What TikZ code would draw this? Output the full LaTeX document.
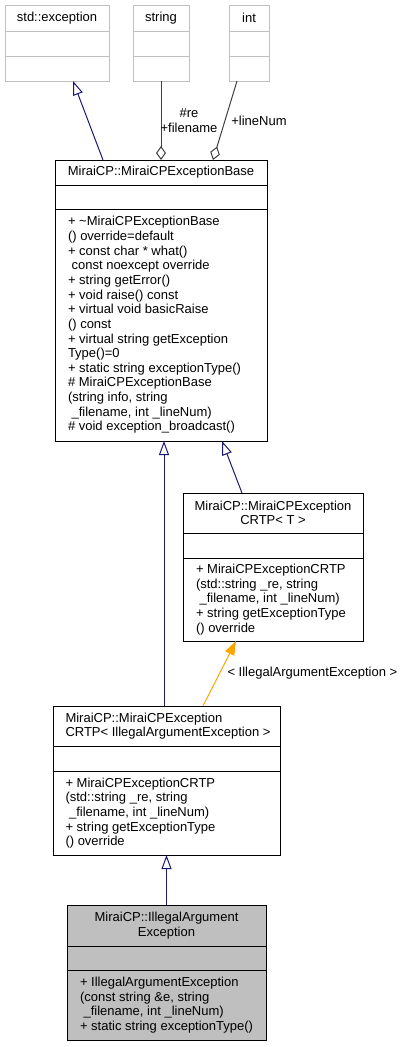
\documentclass[tikz,border=0pt]{standalone}
\usepackage{fontspec}
\setmainfont{Liberation Sans}
\usetikzlibrary{calc,arrows.meta}

\definecolor{edgeblue}{HTML}{191970}
\definecolor{tmplorange}{HTML}{FFA500}
\definecolor{memgray}{HTML}{404040}
\definecolor{extgray}{HTML}{BFBFBF}
\newcommand{\umlfont}{\fontsize{13}{14.64}\selectfont}

\begin{document}
\begin{tikzpicture}[x=1pt,y=-1pt,line width=1pt,
  cls/.style={draw=black,anchor=north west,inner sep=0pt,outer sep=0pt},
  extcls/.style={cls,draw=extgray},
  txt/.style={font=\umlfont,inner sep=0pt},
  ops/.style={txt,align=left,anchor=west},
  inh/.style={draw=edgeblue,-{Triangle[open,length=14pt,width=10pt]}},
  tmpl/.style={draw=tmplorange,-{Triangle[length=14pt,width=10pt,fill=tmplorange]}},
  usage/.style={draw=memgray,-{Diamond[open,length=14pt,width=10pt]}}]
\useasboundingbox (0,0) rectangle (404,1047);

% external classes
\node[extcls,minimum width=104,minimum height=76] (exc) at (5,5) {};
\node[extcls,minimum width=56,minimum height=76] (str) at (133,5) {};
\node[extcls,minimum width=40,minimum height=76] (int) at (229,5) {};
\foreach \n in {exc,str,int}{
  \draw[extgray] ($(\n.north west)+(0,26)$) -- ($(\n.north east)+(0,26)$);
  \draw[extgray] ($(\n.north west)+(0,51)$) -- ($(\n.north east)+(0,51)$);
}
\node[txt] (excT) at ($(exc.north)+(0,13)$) {std::exception};
\node[txt] (strT) at ($(str.north)+(0,13)$) {string};
\node[txt] (intT) at ($(int.north)+(0,13)$) {int};

% class boxes
\node[cls,minimum width=212,minimum height=281] (base) at (55,160) {};
\node[cls,minimum width=180,minimum height=148] (crtpT) at (183,493) {};
\node[cls,minimum width=227,minimum height=149] (crtpI) at (53,706) {};
\node[cls,fill=extgray,minimum width=199,minimum height=135] (illegal) at (67,905) {};
\foreach \n/\a/\b in {base/25/49,crtpT/40/65,crtpI/40/65,illegal/41/65}{
  \draw ($(\n.north west)+(0,\a)$) -- ($(\n.north east)+(0,\a)$);
  \draw ($(\n.north west)+(0,\b)$) -- ($(\n.north east)+(0,\b)$);
}

\node[txt] (baseT) at ($(base.north)+(0,12.5)$) {MiraiCP::MiraiCPExceptionBase};
\node[ops] (baseOps) at ($(base.north west)+(12.5,165)$) {+ \textasciitilde MiraiCPExceptionBase\\() override=default\\+ const char * what()\\\ const noexcept override\\+ string getError()\\+ void raise() const\\+ virtual void basicRaise\\() const\\+ virtual string getException\\Type()=0\\+ static string exceptionType()\\\# MiraiCPExceptionBase\\(string info, string\\\ \_filename, int \_lineNum)\\\# void exception\_broadcast()};

\node[txt,align=center] (crtpTT) at ($(crtpT.north)+(0,20)$) {MiraiCP::MiraiCPException\\CRTP< T >};
\node[ops] (crtpTOps) at ($(crtpT.north west)+(12.5,106.5)$) {+ MiraiCPExceptionCRTP\\(std::string \_re, string\\\ \_filename, int \_lineNum)\\+ string getExceptionType\\() override};

\node[txt,align=left,anchor=west] (crtpIT) at ($(crtpI.north west)+(12,20)$) {MiraiCP::MiraiCPException\\CRTP< IllegalArgumentException >};
\node[ops] (crtpIOps) at ($(crtpI.north west)+(12,107)$) {+ MiraiCPExceptionCRTP\\(std::string \_re, string\\\ \_filename, int \_lineNum)\\+ string getExceptionType\\() override};

\node[txt,align=center] (illegalT) at ($(illegal.north)+(0,20.5)$) {MiraiCP::IllegalArgument\\Exception};
\node[ops] (illegalOps) at ($(illegal.north west)+(12.5,100)$) {+ IllegalArgumentException\\(const string \&e, string\\\ \_filename, int \_lineNum)\\+ static string exceptionType()};

% relations
\draw[inh] ($(base.north west)+(48,0)$) -- ($(exc.south west)+(68,0)$);
\draw[usage] (str.south) -- node[txt,align=center,xshift=28] (reLbl) {\#re\\+filename} (base.north);
\draw[usage] ($(int.south west)+(8,0)$) -- node[txt,xshift=34] (lineLbl) {+lineNum} ($(base.north west)+(158,0)$);
\draw[inh] ($(crtpT.north west)+(59,0)$) -- ($(base.south west)+(167,0)$);
\draw[inh] ($(crtpI.north west)+(111,0)$) -- ($(base.south west)+(109,0)$);
\draw[tmpl] ($(crtpI.north west)+(150,0)$) -- node[txt,anchor=west,xshift=7.5] (argLbl) {< IllegalArgumentException >} ($(crtpT.south west)+(53,0)$);
\draw[inh] (illegal.north) -- (crtpI.south);
\end{tikzpicture}
\end{document}
